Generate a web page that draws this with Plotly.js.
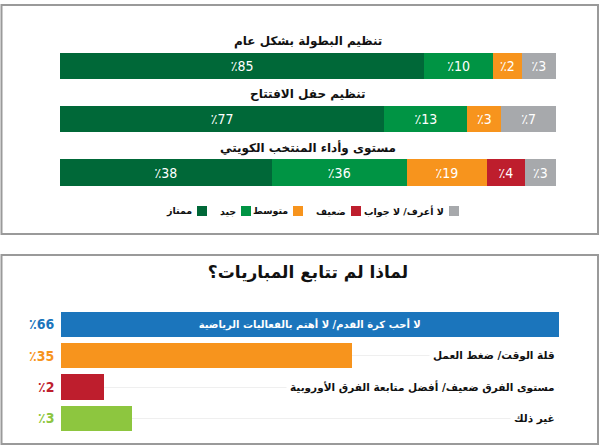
<!DOCTYPE html>
<html>
<head>
<meta charset="utf-8">
<script src="https://cdn.plot.ly/plotly-3.0.1.min.js"></script>
<style>
  html, body { margin: 0; padding: 0; background: #ffffff; }
  #chart { width: 600px; height: 446px; }
</style>
</head>
<body>
<div id="chart"></div>
<script>
// ---------- Top panel data ----------
const topCategories = ['تنظيم البطولة بشكل عام', 'تنظيم حفل الافتتاح', 'مستوى وأداء المنتخب الكويتي'];
const topSeries = ['ممتاز', 'جيد', 'متوسط', 'ضعيف', 'لا أعرف/ لا جواب'];
const topColors = ['#006838', '#009444', '#f7941d', '#be1e2d', '#a7a9ac'];
// printed percentages
const pctExcellent = [85, 77, 38];
const pctGood      = [10, 13, 36];
const pctAverage   = [2, 3, 19];
const pctWeak      = [null, null, 4];
const pctDontKnow  = [3, 7, 3];
// segment lengths as drawn in the picture (share of bar, %)
const drawnExcellent = [73.4, 65.4, 42.7];
const drawnGood      = [13.9, 16.7, 27.2];
const drawnAverage   = [5.8, 6.9, 16.2];
const drawnWeak      = [0, 0, 7.6];
const drawnDontKnow  = [6.9, 11.0, 6.3];

// ---------- Bottom panel data ----------
const bottomTitle = 'لماذا لم تتابع المباريات؟';
const reasons = ['لا أحب كرة القدم/ لا أهتم بالفعاليات الرياضية', 'قلة الوقت/ ضغط العمل', 'مستوى الفرق ضعيف/ أفضل متابعة الفرق الأوروبية', 'غير ذلك'];
const reasonPct = [66, 35, 2, 3];
const reasonDrawn = [66, 38.6, 5.8, 9.5];
const reasonColors = ['#1b75bc', '#f7941d', '#be1e2d', '#8dc63f'];

const AR = '"DejaVu Sans", sans-serif';
const NUM = '"DejaVu Sans Condensed", "DejaVu Sans", sans-serif';
const fmt = v => (v === null || v === undefined) ? '' : '٪' + v;

const topPct = [pctExcellent, pctGood, pctAverage, pctWeak, pctDontKnow];
const topDrawn = [drawnExcellent, drawnGood, drawnAverage, drawnWeak, drawnDontKnow];

const traces = topSeries.map((name, i) => ({
  type: 'bar', orientation: 'h', name: name,
  x: topDrawn[i], y: topCategories,
  xaxis: 'x', yaxis: 'y',
  width: 0.49,
  marker: { color: topColors[i], line: { width: 0 } },
  text: topPct[i].map(fmt),
  textposition: 'inside', insidetextanchor: 'middle', textangle: 0,
  constraintext: 'none',
  textfont: { family: NUM, size: 14, color: '#ffffff' },
  showlegend: false, hoverinfo: 'skip'
}));

traces.push({
  type: 'bar', orientation: 'h',
  x: reasonDrawn, y: reasons,
  xaxis: 'x2', yaxis: 'y2',
  width: 0.8125,
  marker: { color: reasonColors, line: { width: 0 } },
  text: reasons.map((r, i) => i === 0 ? r : ''),
  textposition: 'inside', insidetextanchor: 'middle', textangle: 0,
  constraintext: 'none',
  textfont: { family: AR, size: 10, color: '#ffffff', weight: 'bold' },
  showlegend: false, hoverinfo: 'skip'
});

const annotations = [];
// top bar titles
topCategories.forEach(c => annotations.push({
  xref: 'x domain', yref: 'y', x: 0.5, y: c, yshift: 25,
  text: '<b>' + c + '</b>', showarrow: false,
  font: { family: AR, size: 12, color: '#111111' }
}));
// bottom percent labels and outside category labels
reasons.forEach((r, i) => {
  annotations.push({
    xref: 'x2 domain', yref: 'y2', x: 0, y: r, xanchor: 'right', xshift: -5,
    text: '<b>' + fmt(reasonPct[i]) + '</b>', showarrow: false,
    font: { family: NUM, size: 14, color: reasonColors[i] }
  });
  if (i > 0) annotations.push({
    xref: 'x2 domain', yref: 'y2', x: 1, y: r, xanchor: 'right',
    text: '<b>' + r + '</b>', showarrow: false, bgcolor: '#ffffff', borderpad: 3,
    font: { family: AR, size: 10.5, color: '#111111' }
  });
});

// manual right-to-left legend (text left of swatch)
const legendX = [202, 246, 298, 356, 454];
const legendY = 211;
const shapes = [];
topSeries.forEach((name, i) => {
  shapes.push({
    type: 'rect', xref: 'paper', yref: 'paper',
    x0: (legendX[i] - 5) / 600, x1: (legendX[i] + 5) / 600,
    y0: (446 - legendY - 5) / 446, y1: (446 - legendY + 5) / 446,
    fillcolor: topColors[i], line: { width: 0 }
  });
  annotations.push({
    xref: 'paper', yref: 'paper', x: (legendX[i] - 8) / 600, y: (446 - legendY) / 446,
    xanchor: 'right', yanchor: 'middle', showarrow: false,
    text: '<b>' + name + '</b>', font: { family: AR, size: 9.5, color: '#111111' }
  });
});
// panel frames
shapes.push({ type: 'rect', xref: 'paper', yref: 'paper', x0: 1.5/600, x1: 598/600,
  y0: (446-234)/446, y1: (446-5)/446, line: { color: '#9a9a9a', width: 2 }, layer: 'below' });
shapes.push({ type: 'rect', xref: 'paper', yref: 'paper', x0: 1.5/600, x1: 598/600,
  y0: (446-444)/446, y1: (446-255)/446, line: { color: '#9a9a9a', width: 2 }, layer: 'below' });

const layout = {
  width: 600, height: 446,
  margin: { l: 0, r: 0, t: 0, b: 0 },
  paper_bgcolor: '#ffffff', plot_bgcolor: 'rgba(0,0,0,0)',
  barmode: 'stack', bargap: 0,
  showlegend: false,
  hovermode: false,
  font: { family: AR },
  title: {
    text: '<b>' + bottomTitle + '</b>',
    x: 308/600, xanchor: 'center', y: (446-272)/446, yanchor: 'middle',
    xref: 'paper', yref: 'paper',
    font: { family: AR, size: 17, color: '#111111' }
  },
  xaxis: { domain: [60/600, 556/600], range: [0, 100], showgrid: false, zeroline: false,
    showticklabels: false, fixedrange: true },
  yaxis: { domain: [(446-200)/446, (446-20)/446], type: 'category',
    range: [2.516, -0.864], showgrid: false, zeroline: false, showticklabels: false, fixedrange: true },
  xaxis2: { domain: [60.5/600, 559/600], range: [0, 66], showgrid: false, zeroline: false,
    showticklabels: false, fixedrange: true, anchor: 'y2' },
  yaxis2: { domain: [(446-440)/446, (446-295)/446], type: 'category',
    range: [3.6875, -0.9375], showgrid: true, gridcolor: '#efefef', gridwidth: 1,
    zeroline: false, showticklabels: false, fixedrange: true, anchor: 'x2' },
  annotations: annotations,
  shapes: shapes
};

Plotly.newPlot('chart', traces, layout, { staticPlot: true, displayModeBar: false });
</script>
</body>
</html>
